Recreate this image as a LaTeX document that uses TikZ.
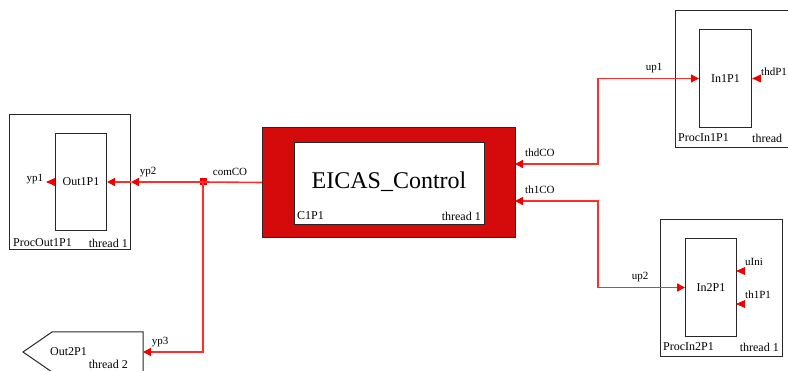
\documentclass[tikz,border=0pt]{standalone}
\usepackage{fontspec}
\setmainfont{Liberation Serif}
\usetikzlibrary{arrows.meta}
\definecolor{wire}{RGB}{255,45,45}
\definecolor{tipred}{RGB}{240,0,0}
\definecolor{eicasred}{RGB}{213,10,10}
\definecolor{boxline}{RGB}{40,40,40}
\tikzset{
  x=1pt, y=-1pt,
  frame/.style={draw=boxline, line width=1pt, anchor=north west, inner sep=0pt},
  lbl/.style={inner sep=0pt, font=\fontsize{11}{13}\selectfont},
  blbl/.style={inner sep=0pt, font=\fontsize{12}{14}\selectfont},
  wireline/.style={draw=wire, line width=1.6pt},
  tipa/.style={-{Triangle[length=8pt,width=8pt,color=tipred]}},
  dualtip/.style={{Triangle[length=8pt,width=8pt,color=tipred]}-{Triangle[length=8pt,width=8pt,color=tipred]}},
  junction/.style={fill=tipred, minimum size=7pt, inner sep=0pt},
  porttri/.style={fill=tipred},
}
\begin{document}
\begin{tikzpicture}
\useasboundingbox (0,0) rectangle (788,371);
\clip (0,0) rectangle (788,371);
\fill[white] (0,0) rectangle (788,371);

% ---------- Out1P1 group ----------
\node[frame, minimum width=121pt, minimum height=135pt] (outer1) at (9,114) {};
\node[frame, minimum width=51pt, minimum height=97pt] (inner1) at (55,133) {};
\node[blbl] (t_out1) at (inner1.center) {Out1P1};
\node[blbl, anchor=west] (t_proc1) at (13,243) {ProcOut1P1};
\node[blbl, anchor=east] (t_thr1) at (128,243) {thread 1};
\node[lbl] (t_yp1) at (35,179) {yp1};
\fill[porttri] (inner1.west) ++(0,-4) -- ++(0,8) -- ++(-9,-4) -- cycle;

% ---------- Out2P1 ----------
\draw[boxline, line width=1pt] (143,380) -- (143,332) -- (52,332) -- (23,352) -- (52,372) -- (143,372);
\coordinate (out2port) at (143,352);
\node[blbl, anchor=west] (t_out2) at (50,352) {Out2P1};
\node[blbl, anchor=east] (t_thr2) at (128,364) {thread 2};

% ---------- EICAS_Control ----------
\node[frame, fill=eicasred, minimum width=253pt, minimum height=110pt] (eouter) at (262,127) {};
\node[frame, fill=white, minimum width=190pt, minimum height=82pt] (einner) at (294,142) {};
\node[inner sep=0pt, font=\fontsize{24}{28}\selectfont] (t_eicas) at (389,182) {EICAS\_Control};
\node[blbl, anchor=west] (t_c1p1) at (297,216) {C1P1};
\node[blbl, anchor=east] (t_thre) at (481,216) {thread 1};

% ---------- In1P1 group ----------
\node[frame, minimum width=125pt, minimum height=137pt] (proc1) at (675,10) {};
\node[frame, minimum width=52pt, minimum height=98pt] (in1) at (699,29) {};
\node[blbl] (t_in1) at (in1.center) {In1P1};
\node[blbl, anchor=west] (t_pin1) at (678,138) {ProcIn1P1};
\node[blbl, anchor=west] (t_thin1) at (752,138) {thread};
\node[lbl, anchor=west] (t_thdp1) at (761,72) {thdP1};
\fill[porttri] (in1.east) ++(9,-4) -- ++(0,8) -- ++(-9,-4) -- cycle;

% ---------- In2P1 group ----------
\node[frame, minimum width=122pt, minimum height=137pt] (proc2) at (660,219) {};
\node[frame, minimum width=51pt, minimum height=98pt] (in2) at (685,238) {};
\node[blbl] (t_in2) at (in2.center) {In2P1};
\node[blbl, anchor=west] (t_pin2) at (663,347) {ProcIn2P1};
\node[blbl, anchor=east] (t_thin2) at (779,347) {thread 1};
\node[lbl, anchor=west] (t_uini) at (745,262) {uIni};
\node[lbl, anchor=west] (t_th1p1) at (745,295) {th1P1};
\coordinate (uiniport) at (736,271);
\coordinate (th1p1port) at (736,304);
\fill[porttri] (uiniport) ++(9,-4) -- ++(0,8) -- ++(-9,-4) -- cycle;
\fill[porttri] (th1p1port) ++(9,-4) -- ++(0,8) -- ++(-9,-4) -- cycle;

% ---------- connectors ----------
\node[junction] (jn) at (203,182) {};
\draw[wireline] (eouter.west) -- (jn.center);
\draw[wireline, tipa] (jn.center) -- (outer1.east |- jn.center);
\draw[wireline, tipa] (outer1.east |- jn.center) -- (inner1.east |- jn.center);
\draw[wireline, tipa] (jn.center) |- (out2port);

\coordinate (thdport) at (515,164);
\coordinate (bend1) at (598,164);
\draw[wireline, dualtip] (thdport) -- (bend1) |- (in1.west);

\coordinate (th1port) at (515,201);
\coordinate (bend2) at (598,201);
\draw[wireline, dualtip] (th1port) -- (bend2) |- (in2.west);

% ---------- port labels ----------
\node[lbl] (t_yp2) at (148,172) {yp2};
\node[lbl] (t_comco) at (230,172) {comCO};
\node[lbl] (t_yp3) at (160,342) {yp3};
\node[lbl, anchor=west] (t_thdco) at (525,153) {thdCO};
\node[lbl, anchor=west] (t_th1co) at (525,190) {th1CO};
\node[lbl] (t_up1) at (654,68) {up1};
\node[lbl] (t_up2) at (640,277) {up2};
\end{tikzpicture}
\end{document}
